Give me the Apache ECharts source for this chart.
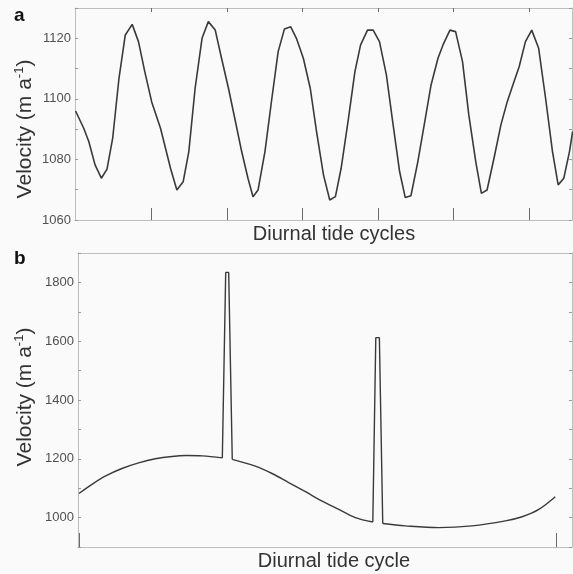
<!DOCTYPE html>
<html>
<head>
<meta charset="utf-8">
<script src="https://cdn.jsdelivr.net/npm/echarts@6/dist/echarts.min.js"></script>
<style>
  html, body { margin: 0; padding: 0; background: #fafafa; }
  #chart { width: 573px; height: 574px; }
</style>
</head>
<body>
<div id="chart"></div>
<script>
// Panel a: hourly velocity over several tide cycles (hours, m/a)
const hoursA = [-0.1,1.2,2.0,3.0,4.0,4.9,5.8,6.8,7.8,8.9,9.9,10.9,12.0,13.4,15.0,16.0,17.0,17.9,18.9,20.0,
  21.0,22.1,23.1,24.2,25.2,26.3,27.3,28.1,28.9,30.0,31.1,32.1,33.1,34.1,35.0,36.1,37.2,38.2,39.3,40.3,
  41.2,42.1,43.2,44.3,45.2,46.3,47.2,48.2,49.3,50.3,51.4,52.3,53.2,54.3,55.4,56.4,57.5,58.3,59.4,60.3,
  61.4,62.4,63.5,64.4,65.3,66.4,67.5,68.5,69.4,70.4,71.4,72.4,73.5,74.6,75.7,76.6,77.5,78.4,78.9];
const velocityA = [1096,1090.3,1085.9,1078.2,1073.8,1076.8,1087,1106.8,1121.1,1124.6,1118.9,1109,1099,1090.3,1077,1069.9,1072.6,1082.6,1103.5,1120,
  1125.5,1122.7,1113.4,1103.5,1093.6,1082.6,1073.8,1067.7,1069.9,1082.6,1100.2,1115.6,1123.1,1123.8,1120,1113.4,1103.5,1089.2,1074.9,1066.6,
  1067.7,1077,1092.5,1109,1117.8,1122.7,1122.7,1118.9,1107.9,1092.5,1076,1067.4,1068,1079.3,1092.5,1104.6,1113.4,1117.8,1122.7,1122.2,
  1112.3,1094.7,1079.3,1068.8,1069.9,1080.4,1091.4,1099,1104.6,1110.6,1118.9,1122.7,1116.7,1100.2,1082.6,1071.6,1073.8,1082.6,1089.2];
const ticksA = [12, 24, 36, 48, 60, 72];

// Panel b: one modelled diurnal cycle (hours 0-24) with two short spikes
const baseHoursB = [0,0.65,1.32,2.16,3.0,3.84,4.68,5.4,6.2,7.21, null,
  7.71,8.87,9.71,10.55,11.39,12.23,13.07,13.9,14.78, null,
  15.28,16.42,18.1,19.77,21.45,22.29,23.13,23.96];
const baseVelB = [1082,1113,1141,1167,1186,1200,1208,1211,1210,1203, null,
  1198,1175,1150,1119,1088,1056,1028,1000,985, null,
  980,972,966,972,989,1003,1028,1071];
const spike1Hours = [7.21, 7.38, 7.53, 7.71];
const spike1Vel = [1203, 1834, 1834, 1198];
const spike2Hours = [14.78, 14.93, 15.11, 15.28];
const spike2Vel = [985, 1612, 1612, 980];
const ticksB = [0, 24];

function pairs(xs, ys) {
  return xs.map((x, i) => (x === null ? ['-', '-'] : [x, ys[i]]));
}

const chart = echarts.init(document.getElementById('chart'), null, { renderer: 'canvas' });

const axisGrey = '#bdbdbd';
const tickGrey = '#6a6a6a';
const labelGrey = '#505050';
const lineColor = '#3a3a3a';
const font = 'Liberation Sans, Arial, sans-serif';

function yAxisDef(gridIndex, min, max, step, labelStep, labelLo, labelHi, right) {
  return {
    type: 'value', gridIndex, min, max, interval: step,
    position: right ? 'right' : 'left',
    axisLine: { show: true, onZero: false, lineStyle: { color: axisGrey, width: 1 } },
    axisTick: { show: true, inside: true, length: 3, lineStyle: { color: '#999' } },
    splitLine: { show: false },
    axisLabel: right ? { show: false } : {
      show: true, fontSize: 13, color: labelGrey, fontFamily: font, margin: 4,
      formatter: v => ((v - labelLo) % labelStep === 0 && v >= labelLo && v <= labelHi ? String(v) : '')
    }
  };
}

function xAxisDef(gridIndex, min, max, ticks, pos, len) {
  return {
    type: 'value', gridIndex, min, max, position: pos,
    axisLine: { show: true, onZero: false, lineStyle: { color: axisGrey, width: 1 } },
    axisTick: { show: ticks.length > 0, inside: true, length: len, customValues: ticks, lineStyle: { color: tickGrey, width: 1 } },
    axisLabel: { show: false },
    splitLine: { show: false }
  };
}

const velocityLabel = '{n|Velocity (m a}{s|-1}{n|)}';
const richLabel = {
  n: { fontSize: 21, fontFamily: font, fill: '#333', color: '#333', lineHeight: 25 },
  s: { fontSize: 13, fontFamily: font, fill: '#333', color: '#333', verticalAlign: 'top', lineHeight: 25, padding: [0, 0, 10, 0] }
};

chart.setOption({
  backgroundColor: '#fafafa',
  animation: false,
  grid: [
    { left: 75, top: 8, right: 1, height: 212 },
    { left: 78, top: 253, right: 1, height: 294 }
  ],
  xAxis: [
    xAxisDef(0, -0.19, 78.8, ticksA, 'bottom', 12),
    xAxisDef(0, -0.19, 78.8, ticksA, 'top', 4),
    xAxisDef(1, -0.05, 24.8, ticksB, 'bottom', 14),
    xAxisDef(1, -0.05, 24.8, [], 'top', 4)
  ],
  yAxis: [
    yAxisDef(0, 1060, 1130, 10, 20, 1060, 1120, false),
    yAxisDef(0, 1060, 1130, 10, 20, 1060, 1120, true),
    yAxisDef(1, 900, 1900, 100, 200, 1000, 1800, false),
    yAxisDef(1, 900, 1900, 100, 200, 1000, 1800, true)
  ],
  series: [
    {
      type: 'line', xAxisIndex: 0, yAxisIndex: 0, data: pairs(hoursA, velocityA),
      showSymbol: false, clip: true, lineStyle: { color: lineColor, width: 1.6 }
    },
    {
      type: 'line', xAxisIndex: 2, yAxisIndex: 2, data: pairs(baseHoursB, baseVelB),
      showSymbol: false, smooth: 0.35, connectNulls: false, lineStyle: { color: lineColor, width: 1.4 }
    },
    {
      type: 'line', xAxisIndex: 2, yAxisIndex: 2, data: pairs(spike1Hours, spike1Vel),
      showSymbol: false, lineStyle: { color: lineColor, width: 1.4 }
    },
    {
      type: 'line', xAxisIndex: 2, yAxisIndex: 2, data: pairs(spike2Hours, spike2Vel),
      showSymbol: false, lineStyle: { color: lineColor, width: 1.4 }
    }
  ],
  graphic: [
    { type: 'text', x: 14, y: 6, style: { text: 'a', font: 'bold 19px ' + font, fill: '#111' } },
    { type: 'text', x: 14, y: 249, style: { text: 'b', font: 'bold 19px ' + font, fill: '#111' } },
    { type: 'text', x: 334, y: 234, style: { text: 'Diurnal tide cycles', font: '20px ' + font, fill: '#333', align: 'center', verticalAlign: 'middle' } },
    { type: 'text', x: 334, y: 561, style: { text: 'Diurnal tide cycle', font: '20px ' + font, fill: '#333', align: 'center', verticalAlign: 'middle' } },
    { type: 'text', x: 25, y: 129, rotation: Math.PI / 2, style: { text: velocityLabel, rich: richLabel, align: 'center', verticalAlign: 'middle' } },
    { type: 'text', x: 25, y: 397, rotation: Math.PI / 2, style: { text: velocityLabel, rich: richLabel, align: 'center', verticalAlign: 'middle' } }
  ]
});
</script>
</body>
</html>
